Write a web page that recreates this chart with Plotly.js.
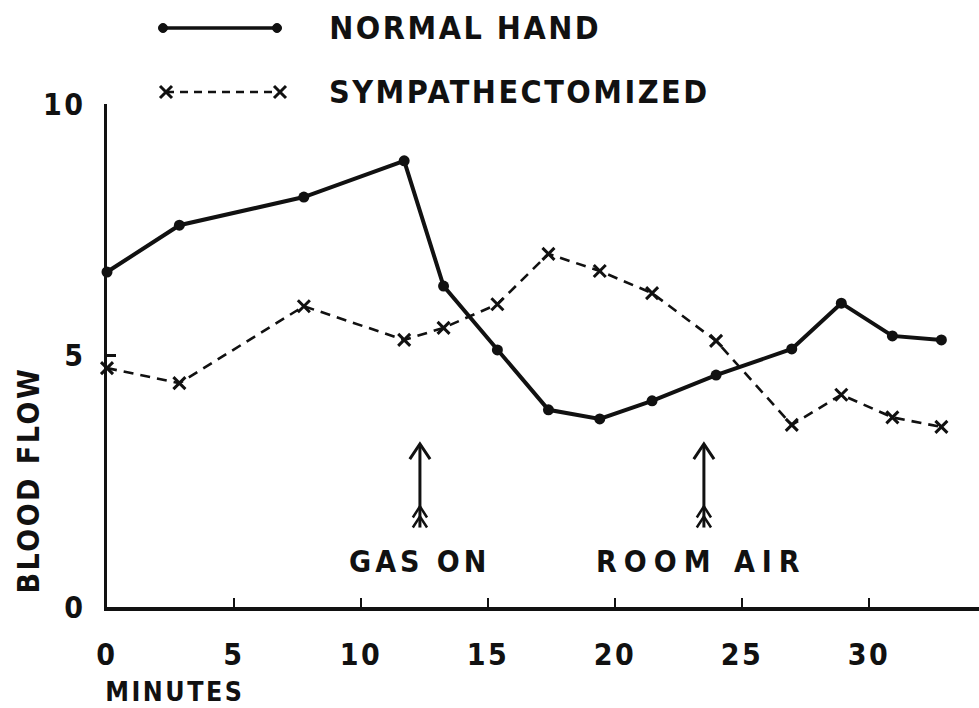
<!DOCTYPE html>
<html>
<head>
<meta charset="utf-8">
<script src="https://cdn.plot.ly/plotly-3.0.1.min.js"></script>
<style>
  html, body { margin: 0; padding: 0; background: #fff; }
  #chart { width: 979px; height: 708px; }
  #chart text { letter-spacing: 2.5px; }
</style>
</head>
<body>
<div id="chart"></div>
<script>
// ---- data ----
const minutes = [0, 2.85, 7.75, 11.7, 13.25, 15.37, 17.38, 19.4, 21.46, 23.98, 26.96, 28.91, 30.92, 32.85];
const normalHand = [6.66, 7.59, 8.15, 8.87, 6.38, 5.11, 3.92, 3.74, 4.10, 4.61, 5.13, 6.04, 5.39, 5.31];
const sympathectomized = [4.75, 4.45, 5.98, 5.31, 5.55, 6.02, 7.02, 6.68, 6.24, 5.29, 3.62, 4.22, 3.77, 3.58];
const seriesNames = ['NORMAL HAND', 'SYMPATHECTOMIZED'];
const xTickVals = [0, 5, 10, 15, 20, 25, 30];
const xTickText = ['0', '5', '10', '15', '20', '25', '30'];
const yTickVals = [0, 5, 10];
const yTickText = ['0', '5', '10'];
const eventMinutes = [12.32, 23.5];
const eventLabels = ['GAS ON', 'ROOM AIR'];
const eventLabelMinutes = [12.32, 23.4];

// ---- layout geometry ----
const W = 979, H = 708;
const M = {l: 107, r: 0, t: 104, b: 101};
const plotW = W - M.l - M.r, plotH = H - M.t - M.b;
const px2x = p => (p - M.l) / plotW;          // pixel -> paper x
const py2y = p => (H - M.b - p) / plotH;      // pixel -> paper y
const FONT = '"DejaVu Sans Condensed", "DejaVu Sans", sans-serif';
const BLACK = '#111';

const traces = [
  {
    x: minutes, y: normalHand, name: seriesNames[0], type: 'scatter', mode: 'lines+markers',
    line: {color: BLACK, width: 4}, marker: {color: BLACK, size: 11, symbol: 'circle'},
    cliponaxis: false, showlegend: false
  },
  {
    x: minutes, y: sympathectomized, name: seriesNames[1], type: 'scatter', mode: 'lines+markers',
    line: {color: BLACK, width: 2.6, dash: '10px,7px'},
    marker: {color: BLACK, size: 12, symbol: 'x-thin-open', line: {color: BLACK, width: 3}},
    cliponaxis: false, showlegend: false
  }
];

const shapes = [];
const annotations = [];

// event arrows
eventMinutes.forEach(function (m) {
  const top = 3.24, bot = 1.58, hx = 0.4, hy = 0.3, fx = 0.28, fy = 0.22;
  shapes.push({type: 'path', xref: 'x', yref: 'y', line: {color: BLACK, width: 3},
    path: 'M' + m + ',' + bot + ' L' + m + ',' + top});
  shapes.push({type: 'path', xref: 'x', yref: 'y', line: {color: BLACK, width: 3},
    path: 'M' + (m - hx) + ',' + (top - hy) + ' L' + m + ',' + top + ' L' + (m + hx) + ',' + (top - hy)});
  [bot, bot + 0.2].forEach(function (y0) {
    shapes.push({type: 'path', xref: 'x', yref: 'y', line: {color: BLACK, width: 2.5},
      path: 'M' + (m - fx) + ',' + y0 + ' L' + m + ',' + (y0 + fy) + ' L' + (m + fx) + ',' + y0});
  });
});
eventLabels.forEach(function (t, i) {
  annotations.push({text: t, x: eventLabelMinutes[i], y: 0.9, xref: 'x', yref: 'y',
    showarrow: false, xanchor: 'center', yanchor: 'middle',
    font: {family: FONT, size: 30, color: BLACK, weight: 'bold'}});
});

// hand-drawn style legend
const lg = [
  {y: 28, x0: 163, x1: 277, dash: 'solid', width: 3.5, marker: 'dot', tx: 341},
  {y: 92, x0: 166, x1: 280, dash: '8px,6px', width: 2.5, marker: 'x', tx: 347}
];
lg.forEach(function (r, i) {
  shapes.push({type: 'line', xref: 'paper', yref: 'paper',
    x0: px2x(r.x0), x1: px2x(r.x1), y0: py2y(r.y), y1: py2y(r.y),
    line: {color: BLACK, width: r.width, dash: r.dash}});
  [r.x0, r.x1].forEach(function (cx) {
    if (r.marker === 'dot') {
      const d = 4.5;
      shapes.push({type: 'circle', xref: 'paper', yref: 'paper',
        x0: px2x(cx - d), x1: px2x(cx + d), y0: py2y(r.y + d), y1: py2y(r.y - d),
        fillcolor: BLACK, line: {color: BLACK, width: 1}});
    } else {
      const d = 6;
      shapes.push({type: 'path', xref: 'paper', yref: 'paper', line: {color: BLACK, width: 3},
        path: 'M' + px2x(cx - d) + ',' + py2y(r.y - d) + ' L' + px2x(cx + d) + ',' + py2y(r.y + d) +
              ' M' + px2x(cx - d) + ',' + py2y(r.y + d) + ' L' + px2x(cx + d) + ',' + py2y(r.y - d)});
    }
  });
  annotations.push({text: seriesNames[i], xref: 'paper', yref: 'paper',
    x: px2x(r.tx), y: py2y(r.y), xanchor: 'left', yanchor: 'middle', showarrow: false,
    font: {family: FONT, size: 32, color: BLACK, weight: 'bold'}});
});

// axis titles as annotations (positioned like the original)
annotations.push({text: 'BLOOD FLOW', xref: 'paper', yref: 'paper', x: px2x(28), y: py2y(480),
  textangle: -90, showarrow: false, xanchor: 'center', yanchor: 'middle',
  font: {family: FONT, size: 30, color: BLACK, weight: 'bold'}});
annotations.push({text: 'MINUTES', xref: 'paper', yref: 'paper', x: px2x(112), y: py2y(691),
  showarrow: false, xanchor: 'left', yanchor: 'middle',
  font: {family: FONT, size: 26.5, color: BLACK, weight: 'bold'}});

const layout = {
  width: W, height: H,
  margin: M,
  paper_bgcolor: '#fff', plot_bgcolor: '#fff',
  showlegend: false,
  xaxis: {
    range: [0, plotW / 25.4], showgrid: false, zeroline: false,
    showline: true, linecolor: BLACK, linewidth: 3.5,
    tickmode: 'array', tickvals: xTickVals, ticktext: xTickText,
    ticks: 'inside', ticklen: 9, tickwidth: 2, tickcolor: BLACK,
    ticklabelstandoff: 18,
    tickfont: {family: FONT, size: 30, color: BLACK, weight: 'bold'}
  },
  yaxis: {
    range: [0, 10], showgrid: false, zeroline: false,
    showline: true, linecolor: BLACK, linewidth: 3.5,
    tickmode: 'array', tickvals: yTickVals, ticktext: yTickText,
    ticks: 'inside', ticklen: 9, tickwidth: 2.5, tickcolor: BLACK,
    ticklabelstandoff: 12,
    tickfont: {family: FONT, size: 30, color: BLACK, weight: 'bold'}
  },
  shapes: shapes,
  annotations: annotations
};

Plotly.newPlot('chart', traces, layout, {staticPlot: true, displayModeBar: false}).then(function () {
  document.querySelectorAll('#chart text').forEach(function (t) {
    if (t.textContent === 'ROOM AIR') t.style.letterSpacing = '7px';
    if (t.textContent === 'GAS ON') t.style.letterSpacing = '4px';
  });
});
</script>
</body>
</html>
